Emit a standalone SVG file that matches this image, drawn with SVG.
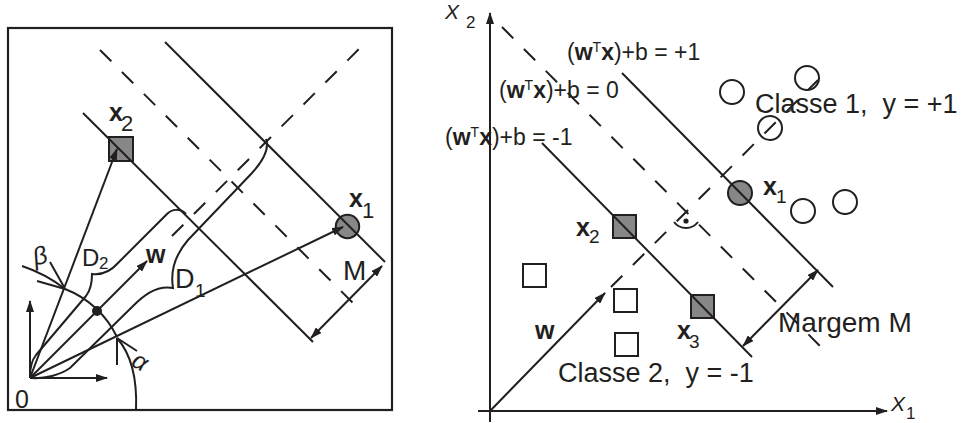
<svg xmlns="http://www.w3.org/2000/svg" width="968" height="423" viewBox="0 0 968 423">
<style>
text{font-family:"Liberation Sans",Arial,sans-serif;fill:#231f20}
.b{font-weight:bold}
.ln{stroke:#231f20;stroke-width:2;fill:none}
.dl{stroke:#231f20;stroke-width:2;fill:none;stroke-dasharray:16 15}
.fill{fill:#878787;stroke:#231f20;stroke-width:2}
.open{fill:#fff;stroke:#231f20;stroke-width:2}
.ar{marker-end:url(#ah)}
.ar2{marker-start:url(#ah);marker-end:url(#ah)}
</style>
<defs>
<marker id="ah" viewBox="0 0 12 8" refX="11" refY="4" markerWidth="12" markerHeight="8" markerUnits="userSpaceOnUse" orient="auto-start-reverse">
<path d="M0,0 L12,4 L0,8 z" fill="#231f20"/>
</marker>
</defs>
<rect width="968" height="423" fill="#fff"/>

<!-- LEFT PANEL -->
<rect x="8" y="28" width="384" height="382" fill="none" stroke="#231f20" stroke-width="2.2"/>

<g id="left-nodes">
<g id="L-x2"><rect x="109" y="137" width="24" height="24" class="fill"/></g>
<g id="L-x1"><circle cx="347.5" cy="226.5" r="11.7" class="fill"/></g>
<g id="L-dot"><circle cx="97" cy="311" r="5" fill="#231f20"/></g>
</g>

<g id="left-connectors">
<line x1="83" y1="113" x2="313" y2="342" class="ln"/>
<line x1="165" y1="42" x2="385" y2="262" class="ln"/>
<line x1="100" y1="50" x2="354" y2="304" class="dl"/>
<line x1="172" y1="236" x2="365" y2="43" class="dl"/>
<line x1="30" y1="378" x2="30" y2="301" class="ln ar"/>
<line x1="30" y1="378" x2="107" y2="378" class="ln ar"/>
<line x1="30" y1="378" x2="117" y2="149" class="ln ar"/>
<line x1="30" y1="378" x2="343" y2="227" class="ln ar"/>
<line x1="30" y1="378" x2="147" y2="261" class="ln ar"/>
<line x1="311" y1="338" x2="382" y2="266" class="ln ar2"/>
<path d="M22,266 Q46,274 65,289 A96,96 0 0 1 117,337" class="ln"/>
<line x1="37" y1="281" x2="65" y2="289" class="ln"/>
<line x1="50" y1="262" x2="64" y2="287" class="ln"/>
<line x1="117" y1="365" x2="117" y2="338" class="ln"/>
<line x1="117" y1="338" x2="137" y2="351" class="ln"/>
<path d="M136,410 Q138,362 117,338" class="ln"/>
<path d="M30,377 C30,366 32,360 36,355 L86,296 C90,291 92,285 92,274 C100,275 110,272 118,263 L167,214 C172,209 180,208 186,214" class="ln"/>
<path d="M31,378 C45,379 60,375 70,368 L132,307 C142,297 155,285 173,288 C170,270 175,255 188,240 L252,173 C262,162 270,150 266,139" class="ln"/>
</g>

<g id="left-labels">
<text x="109" y="121" font-size="25" class="b">x</text><text x="121" y="131" font-size="22">2</text>
<text x="349" y="207" font-size="25" class="b">x</text><text x="362" y="218" font-size="22">1</text>
<text x="146" y="263" font-size="25" class="b">w</text>
<text x="82" y="266" font-size="24">D</text><text x="99" y="269" font-size="17">2</text>
<text x="175" y="288" font-size="27">D</text><text x="195" y="297" font-size="19">1</text>
<text x="343" y="280" font-size="28">M</text>
<text x="33" y="264" font-size="25" font-style="italic" transform="rotate(-15 41 256)">β</text>
<text x="133" y="370" font-size="25" font-style="italic" transform="rotate(30 141 362)">α</text>
<text x="15" y="408" font-size="25">0</text>
</g>

<!-- RIGHT PANEL -->
<g id="right-nodes">
<g id="R-x1"><circle cx="740" cy="193" r="12" class="fill"/></g>
<g id="R-x2"><rect x="613" y="215" width="23" height="23" class="fill"/></g>
<g id="R-x3"><rect x="691" y="295" width="23" height="23" class="fill"/></g>
<g id="R-c1"><circle cx="732" cy="92" r="12" class="open"/></g>
<g id="R-c2"><circle cx="807" cy="78" r="12" class="open"/></g>
<g id="R-c3"><circle cx="770" cy="128" r="12" class="open"/></g>
<g id="R-c4"><circle cx="803" cy="211" r="12" class="open"/></g>
<g id="R-c5"><circle cx="845" cy="202" r="12" class="open"/></g>
<g id="R-s1"><rect x="523" y="264" width="23" height="23" class="open"/></g>
<g id="R-s2"><rect x="614" y="289" width="23" height="23" class="open"/></g>
<g id="R-s3"><rect x="615" y="333" width="23" height="23" class="open"/></g>
</g>

<g id="right-connectors">
<line x1="490" y1="422" x2="490" y2="13" class="ln ar"/>
<line x1="478" y1="411" x2="887" y2="411" class="ln ar"/>
<line x1="542" y1="143" x2="752" y2="357" class="ln"/>
<line x1="622" y1="73" x2="833" y2="287" class="ln"/>
<line x1="502" y1="27" x2="827" y2="353" class="dl"/>
<line x1="611" y1="287" x2="818" y2="80" class="dl"/>
<line x1="490" y1="411" x2="605" y2="293" class="ln ar"/>
<line x1="743" y1="346" x2="818" y2="270" class="ln ar2"/>
<path d="M674,222 A15,15 0 0 0 698,222" class="ln"/>
<circle cx="686" cy="221" r="2.6" fill="#231f20"/>
</g>

<g id="right-labels">
<text x="445" y="19" font-size="21" font-style="italic">X</text><text x="466" y="28" font-size="17">2</text>
<text x="891" y="411" font-size="21" font-style="italic">X</text><text x="906" y="419" font-size="17">1</text>
<text x="567" y="60" font-size="23">(<tspan class="b">w</tspan><tspan font-size="14" dy="-8">T</tspan><tspan class="b" dy="8">x</tspan>)+b = +1</text>
<text x="499" y="98" font-size="23">(<tspan class="b">w</tspan><tspan font-size="14" dy="-8">T</tspan><tspan class="b" dy="8">x</tspan>)+b = 0</text>
<text x="445" y="145" font-size="23">(<tspan class="b">w</tspan><tspan font-size="14" dy="-8">T</tspan><tspan class="b" dy="8">x</tspan>)+b = -1</text>
<text x="755" y="113" font-size="27" xml:space="preserve">Classe 1,  y = +1</text>
<text x="558" y="382" font-size="27" xml:space="preserve">Classe 2,  y = -1</text>
<text x="778" y="332" font-size="28">Margem M</text>
<text x="763" y="195" font-size="25" class="b">x</text><text x="776" y="203" font-size="19">1</text>
<text x="576" y="236" font-size="25" class="b">x</text><text x="589" y="243" font-size="19">2</text>
<text x="677" y="339" font-size="25" class="b">x</text><text x="689" y="348" font-size="19">3</text>
<text x="535" y="339" font-size="25" class="b">w</text>
</g>
</svg>
